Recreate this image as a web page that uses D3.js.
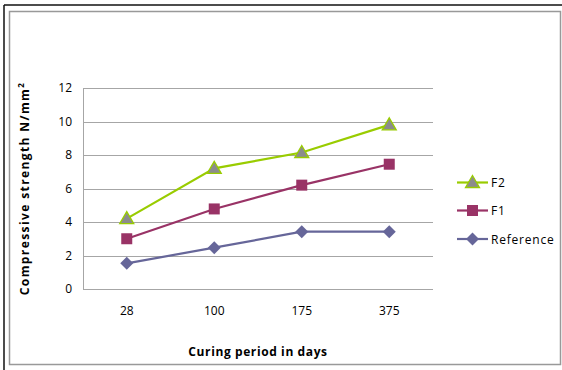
<!DOCTYPE html>
<html><head><meta charset="utf-8">
<script src="https://cdn.jsdelivr.net/npm/d3@7"></script>
<style>body{margin:0;background:#fff}svg{display:block}text{font-family:"Open Sans","DejaVu Sans",sans-serif}</style>
</head><body>
<script>
const categories = ["28", "100", "175", "375"];
const seriesNames = ["F2", "F1", "Reference"];
const f2Values = [4.2, 7.2, 8.15, 9.8];
const f1Values = [3.0, 4.78, 6.2, 7.45];
const refValues = [1.53, 2.47, 3.42, 3.42];
const yTicks = [0, 2, 4, 6, 8, 10, 12];

const W = 562, H = 370;
const svg = d3.select("body").append("svg").attr("width", W).attr("height", H);

// borders
svg.append("line").attr("x1", 4).attr("x2", 4).attr("y1", 5).attr("y2", H).attr("stroke", "#111").attr("stroke-width", 1.5);
svg.append("line").attr("x1", 4).attr("x2", W).attr("y1", 5).attr("y2", 5).attr("stroke", "#111").attr("stroke-width", 1.5);
svg.append("rect").attr("x", 9.5).attr("y", 11.5).attr("width", 551).attr("height", 353)
  .attr("fill", "none").attr("stroke", "#999").attr("stroke-width", 1.5);

const plot = {left: 83, right: 433, top: 88, bottom: 289};
const x = d3.scaleBand().domain(categories).range([plot.left, plot.right]);
const y = d3.scaleLinear().domain([0, 12]).range([plot.bottom, plot.top]);

// gridlines
svg.append("g").selectAll("line").data(yTicks).join("line")
  .attr("x1", plot.left).attr("x2", plot.right)
  .attr("y1", d => Math.round(y(d)) + 0.5).attr("y2", d => Math.round(y(d)) + 0.5)
  .attr("stroke", "#a6a6a6").attr("stroke-width", 1);
svg.append("line").attr("x1", plot.left + 0.5).attr("x2", plot.left + 0.5)
  .attr("y1", plot.top).attr("y2", plot.bottom).attr("stroke", "#a6a6a6");

// y axis labels
const yAxis = d3.axisLeft(y).tickValues(yTicks).tickSize(0).tickPadding(11);
const ga = svg.append("g").attr("transform", `translate(${plot.left},0)`).call(yAxis);
ga.select(".domain").remove();
ga.selectAll("text").attr("font-size", 12).attr("fill", "#000").attr("font-family", "'Open Sans',sans-serif");

// x axis labels
const xAxis = d3.axisBottom(x).tickSize(0).tickPadding(17);
const gx = svg.append("g").attr("transform", `translate(0,${plot.bottom})`).call(xAxis);
gx.select(".domain").remove();
gx.selectAll("text").attr("font-size", 12).attr("fill", "#000").attr("font-family", "'Open Sans',sans-serif");

// axis titles
svg.append("text").attr("x", 258).attr("y", 356).attr("text-anchor", "middle")
  .attr("font-size", 12).attr("font-weight", "bold").attr("letter-spacing", 0.6).text("Curing period in days");
const yt = svg.append("text").attr("transform", `translate(29,${(plot.top + plot.bottom) / 2}) rotate(-90)`)
  .attr("text-anchor", "middle").attr("font-size", 12).attr("font-weight", "bold").attr("letter-spacing", 1.4);
yt.append("tspan").text("Compressive strength N/mm");
yt.append("tspan").attr("dy", -5).attr("font-size", 8).text("2");

const series = [
  {name: seriesNames[0], values: f2Values, color: "#99cc00", marker: "triangle", fill: "#8c8c8c"},
  {name: seriesNames[1], values: f1Values, color: "#993366", marker: "square", fill: "#993366"},
  {name: seriesNames[2], values: refValues, color: "#666699", marker: "diamond", fill: "#666699"}
];
const cx = c => x(c) + x.bandwidth() / 2;
const line = d3.line().x(d => cx(d.c)).y(d => y(d.v));

function drawMarker(g, s, px, py) {
  if (s.marker === "triangle") {
    g.append("path").attr("d", `M${px},${py - 7}L${px + 7},${py + 5}L${px - 7},${py + 5}Z`)
      .attr("fill", s.fill).attr("stroke", s.color).attr("stroke-width", 1.3);
  } else if (s.marker === "square") {
    g.append("rect").attr("x", px - 5.5).attr("y", py - 5.5).attr("width", 11).attr("height", 11).attr("fill", s.fill);
  } else {
    g.append("path").attr("d", `M${px},${py - 6.5}L${px + 6.5},${py}L${px},${py + 6.5}L${px - 6.5},${py}Z`).attr("fill", s.fill);
  }
}

series.slice().reverse().forEach(s => {
  const pts = categories.map((c, i) => ({c, v: s.values[i]}));
  svg.append("path").datum(pts).attr("d", line).attr("fill", "none").attr("stroke", s.color).attr("stroke-width", 2.2);
  const g = svg.append("g");
  pts.forEach(p => drawMarker(g, s, cx(p.c), y(p.v)));
});

// legend
const legY = [182.5, 210.5, 239];
series.forEach((s, i) => {
  const g = svg.append("g");
  g.append("line").attr("x1", 457).attr("x2", 488).attr("y1", legY[i]).attr("y2", legY[i]).attr("stroke", s.color).attr("stroke-width", 2.2);
  drawMarker(g, s, 472.5, legY[i]);
  g.append("text").attr("x", 491).attr("y", legY[i] + 4.5).attr("font-size", 12).attr("letter-spacing", 0.8).text(s.name);
});
</script>
</body></html>
